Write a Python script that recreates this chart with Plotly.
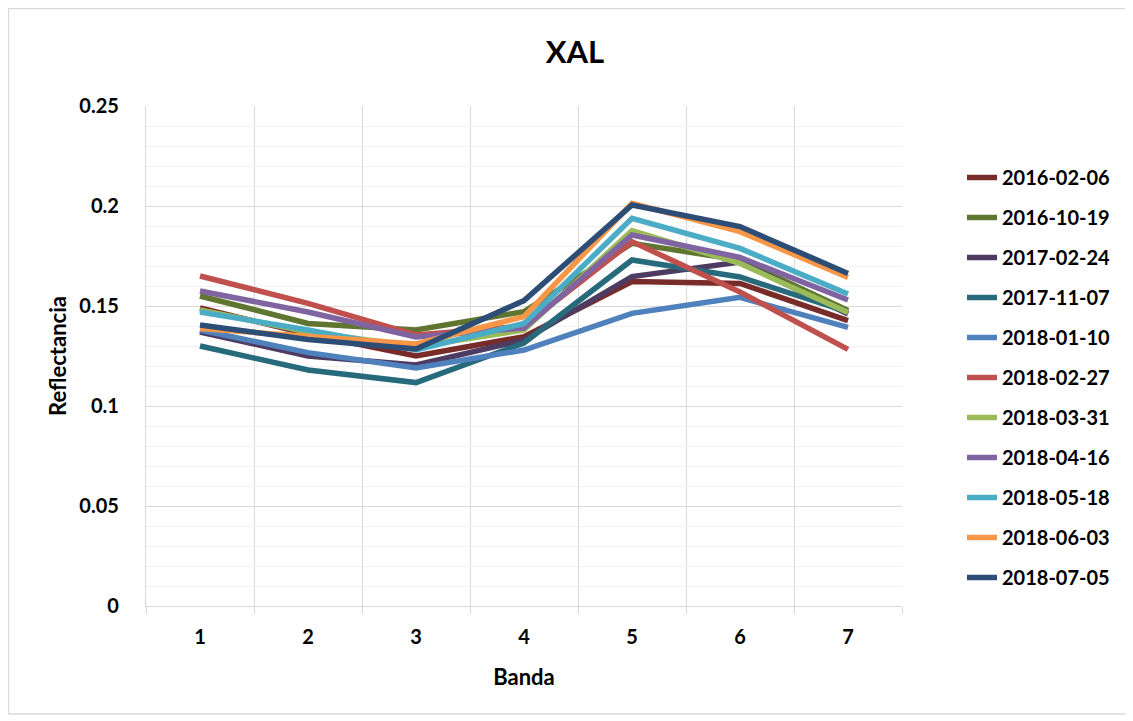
import plotly.graph_objects as go

bands = [1, 2, 3, 4, 5, 6, 7]
dates = ["2016-02-06", "2016-10-19", "2017-02-24", "2017-11-07", "2018-01-10",
         "2018-02-27", "2018-03-31", "2018-04-16", "2018-05-18", "2018-06-03", "2018-07-05"]

s_2016_02_06 = [0.149, 0.136, 0.125, 0.1347, 0.1622, 0.1613, 0.1427]
s_2016_10_19 = [0.155, 0.1413, 0.138, 0.1472, 0.1813, 0.173, 0.1477]
s_2017_02_24 = [0.137, 0.125, 0.1205, 0.133, 0.1647, 0.172, 0.146]
s_2017_11_07 = [0.130, 0.118, 0.1117, 0.1315, 0.173, 0.1645, 0.147]
s_2018_01_10 = [0.138, 0.1267, 0.119, 0.128, 0.1463, 0.1543, 0.1393]
s_2018_02_27 = [0.165, 0.1513, 0.1355, 0.140, 0.1822, 0.157, 0.1283]
s_2018_03_31 = [0.148, 0.137, 0.1297, 0.138, 0.1877, 0.1713, 0.1467]
s_2018_04_16 = [0.1575, 0.147, 0.1345, 0.139, 0.1855, 0.1743, 0.153]
s_2018_05_18 = [0.147, 0.138, 0.128, 0.1413, 0.1938, 0.1788, 0.156]
s_2018_06_03 = [0.1387, 0.1347, 0.131, 0.1447, 0.2013, 0.1872, 0.1643]
s_2018_07_05 = [0.1405, 0.1333, 0.1285, 0.1527, 0.2005, 0.1897, 0.1663]

series = [s_2016_02_06, s_2016_10_19, s_2017_02_24, s_2017_11_07, s_2018_01_10,
          s_2018_02_27, s_2018_03_31, s_2018_04_16, s_2018_05_18, s_2018_06_03, s_2018_07_05]
colors = ["#772C2A", "#5F7530", "#4D3B62", "#276A7C", "#4F81BD", "#C0504D",
          "#9BBB59", "#8064A2", "#4BACC6", "#F79646", "#2C4D75"]

FONT = "Lato"
OFF = 8  # page body margin
W, H = 1133 - OFF, 721 - OFF
L, R, T, B = 146 - OFF, 902 - OFF, 106 - OFF, 606 - OFF

fig = go.Figure()
for name, vals, col in zip(dates, series, colors):
    fig.add_trace(go.Scatter(x=bands, y=vals, mode="lines", name=name,
                             legendgroup=name,
                             line=dict(color=col, width=5.5)))

pw, ph = R - L, B - T
fig.add_shape(type="rect", xref="paper", yref="paper",
              x0=(0.5 - L) / pw, x1=(1118 - L) / pw,
              y0=(B - 706) / ph, y1=(B - 0.5) / ph,
              line=dict(color="#D9D9D9", width=1.3), layer="below")

fig.update_layout(
    width=W, height=H,
    margin=dict(l=L, r=W - R, t=T, b=H - B),
    paper_bgcolor="white", plot_bgcolor="white",
    font=dict(family=FONT, color="black", size=20, weight="bold"),
    title=dict(text="XAL", x=(575 - OFF) / W, xanchor="center", xref="container",
               y=1 - (52 - OFF) / H, yanchor="middle", yref="container",
               font=dict(family=FONT, size=31, weight="bold", color="black")),
    showlegend=True,
    legend=dict(x=(962 - OFF - L) / pw, xanchor="left", y=(B - (158 - OFF)) / ph, yanchor="top",
                font=dict(family=FONT, size=20, weight="bold", color="black"),
                tracegroupgap=11, itemwidth=30, bgcolor="rgba(0,0,0,0)"),
    xaxis=dict(range=[0.5, 7.5], tickvals=bands, ticktext=[str(b) for b in bands],
               showgrid=False, ticks="", ticklabelstandoff=13,
               showline=True, linecolor="#D9D9D9", linewidth=1.3,
               zeroline=False,
               minor=dict(tickvals=[0.5, 1.5, 2.5, 3.5, 4.5, 5.5, 6.5, 7.5],
                          showgrid=True, gridcolor="#D9D9D9", gridwidth=1.3,
                          ticks="outside", ticklen=7, tickcolor="#D9D9D9", tickwidth=1.3),
               title=dict(text="Banda", standoff=22,
                          font=dict(family=FONT, size=22, weight="bold"))),
    yaxis=dict(range=[0, 0.25], dtick=0.05, tick0=0,
               showgrid=True, gridcolor="#D9D9D9", gridwidth=1.3,
               ticks="", ticklabelstandoff=22,
               showline=True, linecolor="#D9D9D9", linewidth=1.3,
               zeroline=False,
               minor=dict(dtick=0.01, showgrid=True, gridcolor="#F2F2F2", gridwidth=1.3),
               title=dict(text="Reflectancia", standoff=6,
                          font=dict(family=FONT, size=22, weight="bold"))),
)

fig.write_html("out.html")
